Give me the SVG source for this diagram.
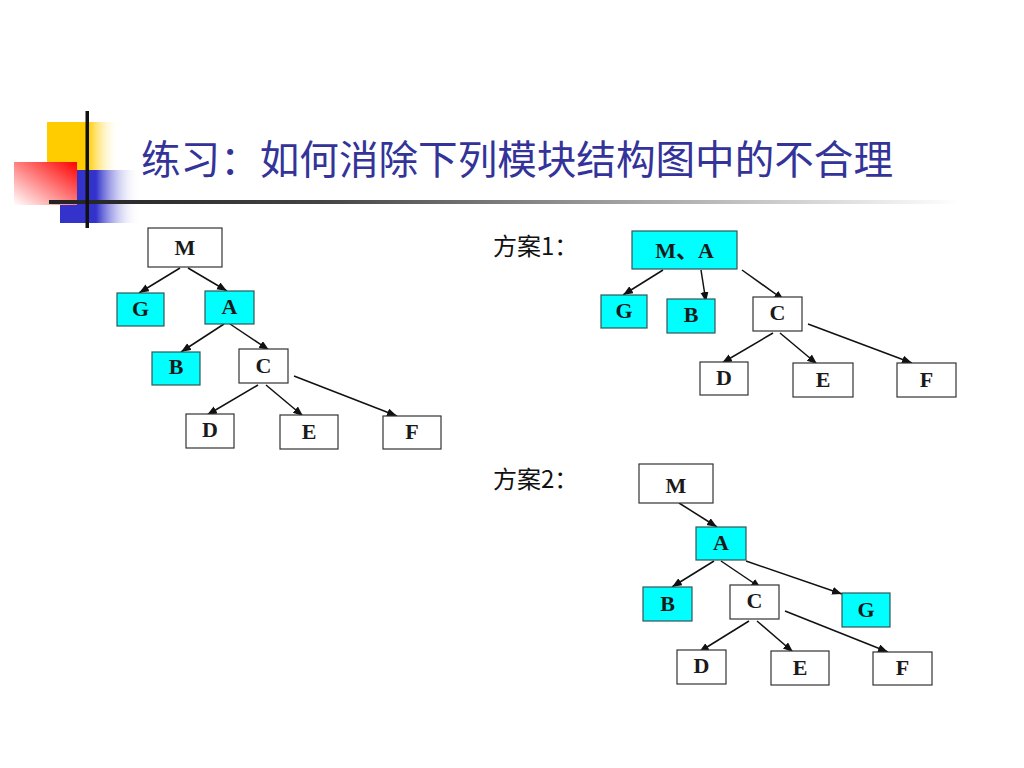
<svg xmlns="http://www.w3.org/2000/svg" width="1024" height="768" viewBox="0 0 1024 768">
<style>
.box{fill:#ffffff;stroke:#333333;stroke-width:1.2}
.hl{fill:#00ffff;stroke:#335555;stroke-width:1.2}
.lbl{font-family:"Liberation Serif","Noto Sans CJK SC",serif;font-weight:bold;font-size:22px;fill:#1a1a1a;text-anchor:middle}
.cn{font-family:"Noto Sans CJK SC","Liberation Sans",sans-serif;font-size:24px;fill:#111111}
.title{font-family:"Noto Sans CJK SC",sans-serif;font-size:39.6px;fill:#333399}
.edge{stroke:#111111;stroke-width:1.5;fill:none;marker-end:url(#arr)}
</style>
<defs>
<marker id="arr" markerUnits="userSpaceOnUse" markerWidth="11" markerHeight="9" refX="10" refY="4" orient="auto">
<path d="M0,0 L10,4 L0,8 z" fill="#111111"/>
</marker>
<linearGradient id="gy" x1="0" y1="0" x2="1" y2="0">
<stop offset="0" stop-color="#ffcc00"/>
<stop offset="0.56" stop-color="#ffcc00"/>
<stop offset="1" stop-color="#ffffff" stop-opacity="0"/>
</linearGradient>
<linearGradient id="gb" x1="0" y1="0" x2="1" y2="0">
<stop offset="0" stop-color="#3333cc"/>
<stop offset="0.45" stop-color="#3333cc"/>
<stop offset="1" stop-color="#ffffff" stop-opacity="0"/>
</linearGradient>
<linearGradient id="gr" x1="1" y1="0" x2="0" y2="1">
<stop offset="0" stop-color="#ff0000"/>
<stop offset="1" stop-color="#ffffff"/>
</linearGradient>
<linearGradient id="gl" x1="0" y1="0" x2="1" y2="0">
<stop offset="0" stop-color="#222222"/>
<stop offset="0.3" stop-color="#444444"/>
<stop offset="0.6" stop-color="#999999"/>
<stop offset="1" stop-color="#ffffff"/>
</linearGradient>
</defs>
<rect width="1024" height="768" fill="#ffffff"/>
<g id="decoration">
<rect x="47" y="122" width="73" height="48" fill="url(#gy)"/>
<rect x="60" y="170" width="80" height="53" fill="url(#gb)"/>
<rect x="14" y="162" width="63" height="43" fill="url(#gr)"/>
<rect x="49" y="200" width="911" height="4" fill="url(#gl)"/>
<rect x="85.5" y="111" width="3.5" height="117" fill="#111111"/>
</g>
<text id="title" class="title" x="141" y="174">练习：如何消除下列模块结构图中的不合理</text>
<text id="plan1" class="cn" x="493" y="255">方案1：</text>
<text id="plan2" class="cn" x="493" y="488">方案2：</text>
<g id="connectors">
<line class="edge" x1="180" y1="268" x2="139" y2="293"/>
<line class="edge" x1="188" y1="268" x2="227" y2="291"/>
<line class="edge" x1="224" y1="324" x2="181" y2="352"/>
<line class="edge" x1="230" y1="324" x2="269" y2="350"/>
<line class="edge" x1="258" y1="385" x2="207" y2="415"/>
<line class="edge" x1="266" y1="385" x2="303" y2="416"/>
<line class="edge" x1="294" y1="376" x2="397" y2="416"/>
<line class="edge" x1="663" y1="270" x2="623" y2="295"/>
<line class="edge" x1="701" y1="270" x2="706" y2="302"/>
<line class="edge" x1="742" y1="270" x2="784" y2="300"/>
<line class="edge" x1="773" y1="333" x2="722" y2="363"/>
<line class="edge" x1="780" y1="333" x2="817" y2="364"/>
<line class="edge" x1="808" y1="324" x2="912" y2="363"/>
<line class="edge" x1="679" y1="503" x2="717" y2="527"/>
<line class="edge" x1="714" y1="561" x2="672" y2="587"/>
<line class="edge" x1="721" y1="561" x2="761" y2="588"/>
<line class="edge" x1="746" y1="561" x2="842" y2="594"/>
<line class="edge" x1="749" y1="621" x2="699" y2="652"/>
<line class="edge" x1="757" y1="621" x2="793" y2="652"/>
<line class="edge" x1="785" y1="611" x2="888" y2="652"/>
</g>
<g id="t0-M"><rect class="box" x="148" y="228" width="74" height="39"/><text class="lbl" x="185" y="255">M</text></g>
<g id="t0-G"><rect class="hl" x="117" y="293" width="47" height="33"/><text class="lbl" x="140.5" y="316">G</text></g>
<g id="t0-A"><rect class="hl" x="205" y="291" width="49" height="33"/><text class="lbl" x="229.5" y="314">A</text></g>
<g id="t0-B"><rect class="hl" x="152" y="352" width="48" height="33"/><text class="lbl" x="176" y="374">B</text></g>
<g id="t0-C"><rect class="box" x="239" y="349" width="49" height="34"/><text class="lbl" x="263.5" y="373">C</text></g>
<g id="t0-D"><rect class="box" x="186" y="414" width="48" height="34"/><text class="lbl" x="210" y="437">D</text></g>
<g id="t0-E"><rect class="box" x="280" y="415" width="58" height="34"/><text class="lbl" x="309" y="439">E</text></g>
<g id="t0-F"><rect class="box" x="383" y="416" width="58" height="33"/><text class="lbl" x="412" y="439">F</text></g>
<g id="t1-MA"><rect class="hl" x="632" y="231" width="105" height="38"/><text class="lbl" x="684.5" y="258">M、A</text></g>
<g id="t1-G"><rect class="hl" x="601" y="295" width="46" height="33"/><text class="lbl" x="624" y="318">G</text></g>
<g id="t1-B"><rect class="hl" x="667" y="299" width="48" height="34"/><text class="lbl" x="691" y="322">B</text></g>
<g id="t1-C"><rect class="box" x="753" y="297" width="49" height="34"/><text class="lbl" x="777.5" y="320">C</text></g>
<g id="t1-D"><rect class="box" x="700" y="362" width="48" height="33"/><text class="lbl" x="724" y="385">D</text></g>
<g id="t1-E"><rect class="box" x="793" y="363" width="60" height="34"/><text class="lbl" x="823" y="387">E</text></g>
<g id="t1-F"><rect class="box" x="897" y="363" width="59" height="34"/><text class="lbl" x="926.5" y="387">F</text></g>
<g id="t2-M"><rect class="box" x="639" y="464" width="74" height="39"/><text class="lbl" x="676" y="493">M</text></g>
<g id="t2-A"><rect class="hl" x="696" y="527" width="50" height="33"/><text class="lbl" x="721" y="550">A</text></g>
<g id="t2-B"><rect class="hl" x="643" y="587" width="49" height="34"/><text class="lbl" x="667.5" y="611">B</text></g>
<g id="t2-C"><rect class="box" x="730" y="585" width="49" height="34"/><text class="lbl" x="754.5" y="608">C</text></g>
<g id="t2-G"><rect class="hl" x="842" y="593" width="48" height="34"/><text class="lbl" x="866" y="617">G</text></g>
<g id="t2-D"><rect class="box" x="677" y="650" width="49" height="34"/><text class="lbl" x="701.5" y="673">D</text></g>
<g id="t2-E"><rect class="box" x="771" y="651" width="58" height="34"/><text class="lbl" x="800" y="675">E</text></g>
<g id="t2-F"><rect class="box" x="873" y="652" width="59" height="33"/><text class="lbl" x="902.5" y="675">F</text></g>
</svg>
